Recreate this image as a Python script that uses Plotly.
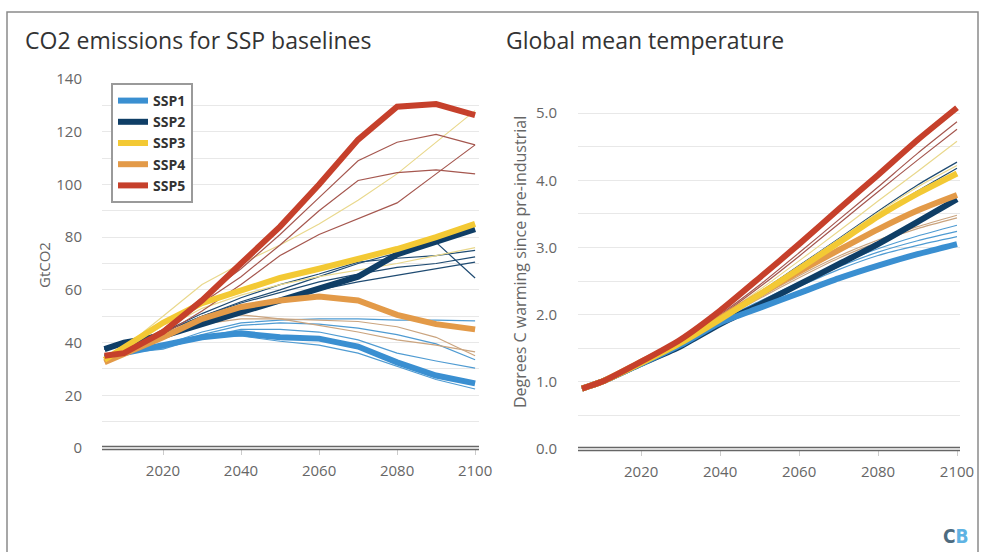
import plotly.graph_objects as go

W, H = 985, 552

years = [2005, 2010, 2020, 2030, 2040, 2050, 2060, 2070, 2080, 2090, 2100]
scenarios = ["SSP1", "SSP2", "SSP3", "SSP4", "SSP5"]

# CO2 emissions (GtCO2) - marker baselines
co2_ssp1 = [34.5, 36, 39, 42, 43.5, 42, 41.5, 38.5, 32.5, 27.5, 24.5]
co2_ssp2 = [37.5, 40, 42.5, 47, 51.5, 56, 60.5, 65, 73.5, 78.5, 83]
co2_ssp3 = [33.5, 38, 47.5, 55, 60, 64.5, 68, 71.5, 75.5, 80, 85]
co2_ssp4 = [32.5, 35.5, 42, 49, 53.5, 56, 57.5, 56, 50.5, 47, 45]
co2_ssp5 = [35, 36, 44, 56, 70, 84, 100, 117, 129.5, 130.5, 126.3]

# CO2 emissions - other model baselines
co2_ssp1_other = [
    [35, 36, 39, 44, 47.5, 48.5, 49, 49, 48.5, 48.5, 48.2],
    [35, 36, 38, 43, 46.5, 47.5, 47, 45.5, 43, 39.5, 33.5],
    [35, 36, 37.5, 42, 45, 45, 44, 41, 36, 33, 30.3],
    [35, 36, 38, 42, 42.5, 40.5, 39, 36, 31, 26, 22.4],
]
co2_ssp2_other = [
    [37.5, 40, 44, 50, 55.5, 60, 65, 70, 74, 78, 64.5],
    [37.5, 40, 44, 51, 57, 62, 66, 70.5, 72, 73, 75],
    [37.5, 40, 43, 48, 53, 56.5, 60, 63, 65.5, 68, 70.5],
    [37.5, 40, 44, 50, 55, 59, 63, 66, 68.5, 70, 72.5],
]
co2_ssp3_other = [
    [33.5, 38, 50, 62, 70, 77, 85, 94, 104, 116, 128],
    [33.5, 37, 45, 53, 58, 62, 65, 67.5, 70, 73, 76],
]
co2_ssp4_other = [
    [33, 36, 42, 48, 50.5, 49, 46.5, 44, 41, 39, 36.5],
    [33, 36, 42, 47, 49, 49, 48.5, 48, 46, 42, 35],
]
co2_ssp5_other = [
    [35, 37, 45, 57, 68, 81, 95, 109, 116, 119, 115],
    [35, 37, 44, 55, 65, 77, 90, 101.5, 104.5, 105.5, 104],
    [35, 36, 43, 52, 62, 73, 81, 87, 93, 104, 115],
]

# Global mean temperature (deg C above pre-industrial) - marker baselines
tmp_ssp1 = [0.9, 1.0, 1.27, 1.55, 1.88, 2.1, 2.32, 2.54, 2.73, 2.9, 3.05]
tmp_ssp2 = [0.9, 1.0, 1.27, 1.53, 1.86, 2.15, 2.45, 2.75, 3.05, 3.38, 3.72]
tmp_ssp3 = [0.9, 1.0, 1.28, 1.58, 1.93, 2.3, 2.68, 3.07, 3.46, 3.8, 4.1]
tmp_ssp4 = [0.9, 1.0, 1.3, 1.6, 1.95, 2.3, 2.64, 2.96, 3.27, 3.55, 3.78]
tmp_ssp5 = [0.9, 1.0, 1.3, 1.63, 2.06, 2.55, 3.05, 3.57, 4.08, 4.6, 5.08]

tmp_ssp1_other = [
    [0.9, 1.0, 1.28, 1.57, 1.91, 2.2, 2.48, 2.75, 2.98, 3.17, 3.33],
    [0.9, 1.0, 1.28, 1.56, 1.9, 2.18, 2.45, 2.71, 2.93, 3.1, 3.24],
    [0.9, 1.0, 1.27, 1.56, 1.89, 2.16, 2.42, 2.67, 2.88, 3.03, 3.16],
]
tmp_ssp2_other = [
    [0.9, 1.0, 1.28, 1.59, 1.95, 2.33, 2.73, 3.13, 3.54, 3.93, 4.27],
    [0.9, 1.0, 1.28, 1.58, 1.94, 2.31, 2.69, 3.08, 3.47, 3.84, 4.18],
]
tmp_ssp3_other = [
    [0.9, 1.0, 1.29, 1.6, 1.97, 2.37, 2.8, 3.24, 3.69, 4.13, 4.58],
    [0.9, 1.0, 1.28, 1.59, 1.95, 2.33, 2.72, 3.12, 3.52, 3.9, 4.22],
]
tmp_ssp4_other = [
    [0.9, 1.0, 1.29, 1.59, 1.93, 2.26, 2.58, 2.87, 3.11, 3.31, 3.48],
    [0.9, 1.0, 1.29, 1.58, 1.92, 2.24, 2.55, 2.84, 3.08, 3.28, 3.44],
]
tmp_ssp5_other = [
    [0.9, 1.0, 1.3, 1.61, 2.0, 2.44, 2.92, 3.41, 3.9, 4.4, 4.87],
    [0.9, 1.0, 1.3, 1.6, 1.98, 2.41, 2.87, 3.35, 3.83, 4.3, 4.76],
]

co2_ticks = [0, 20, 40, 60, 80, 100, 120, 140]
tmp_ticks = [0, 1, 2, 3, 4, 5]
tmp_tick_text = ["0.0", "1.0", "2.0", "3.0", "4.0", "5.0"]
year_ticks = [2020, 2040, 2060, 2080, 2100]

thick_colors = ["#3a8fd1", "#0f3e66", "#f3c934", "#e39a48", "#c6402b"]
thin_colors = ["#4f9bd2", "#1f4b72", "#e9d88c", "#caa47f", "#a5574f"]

co2_main = [co2_ssp1, co2_ssp2, co2_ssp3, co2_ssp4, co2_ssp5]
co2_other = [co2_ssp1_other, co2_ssp2_other, co2_ssp3_other, co2_ssp4_other, co2_ssp5_other]
tmp_main = [tmp_ssp1, tmp_ssp2, tmp_ssp3, tmp_ssp4, tmp_ssp5]
tmp_other = [tmp_ssp1_other, tmp_ssp2_other, tmp_ssp3_other, tmp_ssp4_other, tmp_ssp5_other]

fig = go.Figure()

def px_x(x):
    return x / W

def px_y(y):
    return 1 - y / H

# thin lines first
for i, name in enumerate(scenarios):
    for s in co2_other[i]:
        fig.add_trace(go.Scatter(x=years, y=s, mode="lines", xaxis="x", yaxis="y",
                                 line=dict(color=thin_colors[i], width=1.2),
                                 showlegend=False, hoverinfo="skip"))
    for s in tmp_other[i]:
        fig.add_trace(go.Scatter(x=years, y=s, mode="lines", xaxis="x2", yaxis="y2",
                                 line=dict(color=thin_colors[i], width=1.2, shape="spline", smoothing=0.6),
                                 showlegend=False, hoverinfo="skip"))

draw_order = [1, 0, 3, 2, 4]
for i in draw_order:
    name = scenarios[i]
    fig.add_trace(go.Scatter(x=years, y=co2_main[i], mode="lines", name=name, xaxis="x", yaxis="y",
                             line=dict(color=thick_colors[i], width=6),
                             legendgroup=name, legendrank=i + 1, showlegend=True))
    fig.add_trace(go.Scatter(x=years, y=tmp_main[i], mode="lines", name=name, xaxis="x2", yaxis="y2",
                             line=dict(color=thick_colors[i], width=6, shape="spline", smoothing=0.6),
                             legendgroup=name, showlegend=False))

grid = "#e8e8e8"
tickfont = dict(family="Open Sans", size=15, color="#666")

xcommon = dict(tickvals=year_ticks, ticks="outside", ticklen=6, tickcolor="#ccc",
               showgrid=False, zeroline=False, showline=False, tickfont=tickfont,
               ticklabelstandoff=3, automargin=False)

fig.update_layout(
    template="none",
    width=W, height=H, autosize=False,
    margin=dict(l=0, r=0, t=0, b=0, pad=0, autoexpand=False),
    paper_bgcolor="white", plot_bgcolor="white",
    xaxis=dict(domain=[px_x(102), px_x(479)], range=[2004.36, 2101], anchor="y", **xcommon),
    yaxis=dict(domain=[px_y(448), px_y(79)], range=[0, 140], anchor="x", automargin=False,
               tickvals=co2_ticks, ticks="", showgrid=True, gridcolor=grid, gridwidth=1,
               minor=dict(dtick=10, showgrid=True, gridcolor=grid, gridwidth=1, ticks=""),
               zeroline=False, showline=False, tickfont=tickfont, ticklabelstandoff=19),
    xaxis2=dict(domain=[px_x(578), px_x(960)], range=[2004, 2100.76], anchor="y2", **xcommon),
    yaxis2=dict(domain=[px_y(449), px_y(79.5)], range=[0, 5.5], anchor="x2", automargin=False,
                tickvals=tmp_ticks, ticktext=tmp_tick_text, ticks="", showgrid=True, gridcolor=grid, gridwidth=1,
                minor=dict(dtick=0.5, showgrid=True, gridcolor=grid, gridwidth=1, ticks=""),
                zeroline=False, showline=False, tickfont=tickfont, ticklabelstandoff=20),
    legend=dict(x=px_x(111), y=px_y(83), xanchor="left", yanchor="top",
                bordercolor="#9a9a9a", borderwidth=2, bgcolor="white",
                font=dict(family="Open Sans", size=14, color="#333", weight="bold"),
                itemwidth=30, tracegroupgap=0, traceorder="normal"),
    showlegend=True,
)

shapes = []
# outer frame
shapes.append(dict(type="rect", xref="paper", yref="paper", x0=px_x(7), x1=px_x(978),
                   y0=-0.05, y1=px_y(12), line=dict(color="#8a8a8a", width=1.5)))
# double baseline for both charts
for (xa, xb, yb) in [(102, 479, 448), (578, 960, 449)]:
    for dy in (-1.5, 1.5):
        shapes.append(dict(type="line", xref="paper", yref="paper",
                           x0=px_x(xa), x1=px_x(xb), y0=px_y(yb + dy), y1=px_y(yb + dy),
                           line=dict(color="#666", width=1.4)))
fig.update_layout(shapes=shapes)

annotations = [
    dict(text="CO2 emissions for SSP baselines", x=px_x(23), y=px_y(40), xref="paper", yref="paper",
         xanchor="left", yanchor="middle", showarrow=False,
         font=dict(family="Open Sans", size=23, color="#333")),
    dict(text="Global mean temperature", x=px_x(504), y=px_y(40), xref="paper", yref="paper",
         xanchor="left", yanchor="middle", showarrow=False,
         font=dict(family="Open Sans", size=23, color="#333")),
    dict(text="GtCO2", x=px_x(44), y=px_y(265), xref="paper", yref="paper", textangle=-90,
         xanchor="center", yanchor="middle", showarrow=False,
         font=dict(family="Open Sans", size=15, color="#666")),
    dict(text="Degrees C warming since pre-industrial", x=px_x(520), y=px_y(262), xref="paper", yref="paper",
         textangle=-90, xanchor="center", yanchor="middle", showarrow=False,
         font=dict(family="Open Sans", size=16, color="#666")),
    dict(text="<b><span style='color:#4d6b80'>C</span><span style='color:#5fb3e3'>B</span></b>",
         x=px_x(956), y=px_y(536), xref="paper", yref="paper", xanchor="center", yanchor="middle",
         showarrow=False, font=dict(family="DejaVu Sans Condensed, DejaVu Sans", size=19)),
]
fig.update_layout(annotations=annotations)

post = (
    "document.documentElement.style.margin='0';"
    "document.documentElement.style.overflow='hidden';"
    "document.body.style.margin='0';"
    "document.body.style.padding='0';"
    "document.body.style.overflow='hidden';"
    "var gd=document.getElementById('{plot_id}');"
    "gd.style.position='absolute';gd.style.left='0px';gd.style.top='0px';"
)

fig.write_html(
    "out.html",
    config={"displayModeBar": False, "responsive": False},
    post_script=post,
)
